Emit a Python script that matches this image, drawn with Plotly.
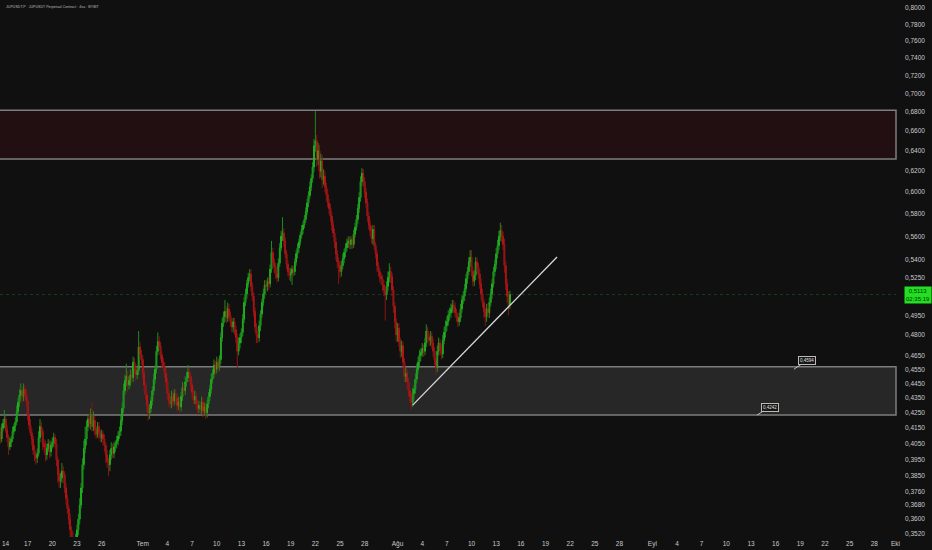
import plotly.graph_objects as go
import pandas as pd
import math

# ---------------- data (4h candles, JUPUSDT perpetual) ----------------
first_open = 0.414
close = [
    0.412, 0.408, 0.415,                              # Jun 13 (12h-20h)
    0.418, 0.421, 0.414, 0.409, 0.403, 0.406,         # Jun 14
    0.408, 0.413, 0.416, 0.419, 0.426, 0.432,         # Jun 15
    0.437, 0.440, 0.436, 0.441, 0.438, 0.433,         # Jun 16
    0.423, 0.417, 0.412, 0.408, 0.401, 0.398,         # Jun 17
    0.396, 0.399, 0.409, 0.416, 0.413, 0.405,         # Jun 18
    0.403, 0.398, 0.402, 0.405, 0.400, 0.404,         # Jun 19
    0.406, 0.409, 0.405, 0.395, 0.386, 0.382,         # Jun 20
    0.384, 0.388, 0.386, 0.378, 0.372, 0.366,         # Jun 21
    0.360, 0.354, 0.350, 0.347, 0.346, 0.349,         # Jun 22
    0.354, 0.360, 0.368, 0.378, 0.392, 0.402,         # Jun 23
    0.408, 0.416, 0.421, 0.418, 0.423, 0.416,         # Jun 24
    0.420, 0.414, 0.411, 0.416, 0.412, 0.409,         # Jun 25
    0.411, 0.408, 0.404, 0.398, 0.394, 0.392,         # Jun 26
    0.398, 0.402, 0.399, 0.403, 0.405, 0.407,         # Jun 27
    0.410, 0.413, 0.420, 0.428, 0.440, 0.447,         # Jun 28
    0.450, 0.444, 0.447, 0.451, 0.449, 0.460,         # Jun 29
    0.455, 0.451, 0.454, 0.471, 0.466, 0.462,         # Jun 30
    0.452, 0.444, 0.437, 0.430, 0.425, 0.428,         # Jul 1
    0.433, 0.440, 0.448, 0.455, 0.468, 0.475,         # Jul 2
    0.472, 0.465, 0.460, 0.457, 0.452, 0.446,         # Jul 3
    0.438, 0.433, 0.431, 0.436, 0.433, 0.438,         # Jul 4
    0.435, 0.430, 0.432, 0.429, 0.436, 0.442,         # Jul 5
    0.440, 0.446, 0.449, 0.453, 0.450, 0.444,         # Jul 6
    0.439, 0.434, 0.436, 0.431, 0.428, 0.430,         # Jul 7
    0.427, 0.432, 0.426, 0.429, 0.425, 0.431,         # Jul 8
    0.436, 0.441, 0.448, 0.452, 0.458, 0.455,         # Jul 9
    0.460, 0.457, 0.462, 0.478, 0.489, 0.494,         # Jul 10
    0.498, 0.493, 0.500, 0.495, 0.490, 0.486,         # Jul 11
    0.490, 0.484, 0.478, 0.468, 0.474, 0.478,         # Jul 12
    0.482, 0.492, 0.505, 0.512, 0.520, 0.525,         # Jul 13
    0.528, 0.518, 0.510, 0.498, 0.486, 0.480,         # Jul 14
    0.478, 0.487, 0.496, 0.505, 0.512, 0.519,         # Jul 15
    0.518, 0.522, 0.520, 0.532, 0.546, 0.538,         # Jul 16
    0.534, 0.528, 0.525, 0.537, 0.550, 0.560,         # Jul 17
    0.563, 0.556, 0.545, 0.536, 0.530, 0.527,         # Jul 18
    0.529, 0.532, 0.530, 0.538, 0.545, 0.550,         # Jul 19
    0.555, 0.561, 0.566, 0.570, 0.575, 0.582,         # Jul 20
    0.590, 0.597, 0.605, 0.613, 0.624, 0.645,         # Jul 21
    0.650, 0.632, 0.640, 0.620, 0.630, 0.612,         # Jul 22
    0.615, 0.605, 0.598, 0.590, 0.585, 0.578,         # Jul 23
    0.570, 0.563, 0.555, 0.545, 0.538, 0.535,         # Jul 24
    0.530, 0.535, 0.541, 0.546, 0.550, 0.554,         # Jul 25
    0.556, 0.553, 0.557, 0.553, 0.562, 0.568,         # Jul 26
    0.575, 0.585, 0.595, 0.610, 0.618, 0.610,         # Jul 27
    0.600, 0.590, 0.578, 0.570, 0.565, 0.558,         # Jul 28
    0.566, 0.552, 0.545, 0.535, 0.530, 0.526,         # Jul 29
    0.524, 0.519, 0.515, 0.511, 0.518, 0.525,         # Jul 30
    0.530, 0.526, 0.515, 0.502, 0.490, 0.480,         # Jul 31
    0.485, 0.475, 0.468, 0.472, 0.460, 0.450,         # Aug 1
    0.452, 0.446, 0.440, 0.436, 0.432, 0.438,         # Aug 2
    0.441, 0.448, 0.455, 0.460, 0.465, 0.467,         # Aug 3
    0.470, 0.468, 0.474, 0.483, 0.478, 0.476,         # Aug 4
    0.479, 0.474, 0.468, 0.462, 0.456, 0.468,         # Aug 5
    0.474, 0.469, 0.466, 0.476, 0.482, 0.487,         # Aug 6
    0.490, 0.495, 0.497, 0.500, 0.503, 0.501,         # Aug 7
    0.497, 0.494, 0.490, 0.493, 0.500, 0.507,         # Aug 8
    0.510, 0.516, 0.524, 0.530, 0.538, 0.542,         # Aug 9
    0.530, 0.522, 0.527, 0.538, 0.534, 0.528,         # Aug 10
    0.520, 0.512, 0.505, 0.498, 0.494, 0.500,         # Aug 11
    0.497, 0.505, 0.512, 0.520, 0.530, 0.536,         # Aug 12
    0.545, 0.552, 0.560, 0.565, 0.560, 0.553,         # Aug 13
    0.535, 0.520, 0.510, 0.503, 0.5113,               # Aug 14 (0h-16h)
]
# upper / lower wick lengths beyond the body, in thousandths of price
hi_wick = [
    3, 4, 3,
    3, 6, 2, 3, 2, 3,
    2, 3, 2, 3, 4, 3,
    4, 5, 3, 4, 3, 3,
    3, 2, 4, 3, 2, 3,
    2, 3, 4, 5, 3, 2,
    3, 4, 3, 3, 2, 3,
    3, 3, 2, 3, 2, 3,
    3, 5, 3, 2, 3, 2,
    2, 3, 2, 3, 2, 3,
    3, 3, 4, 3, 4, 5,
    8, 4, 3, 4, 5, 9,
    6, 3, 2, 3, 3, 2,
    3, 2, 3, 2, 3, 2,
    3, 4, 3, 3, 2, 3,
    3, 3, 4, 4, 5, 4,
    9, 4, 3, 4, 3, 4,
    3, 4, 3, 12, 4, 3,
    3, 3, 2, 3, 2, 3,
    3, 3, 4, 3, 4, 7,
    4, 3, 3, 3, 3, 3,
    3, 3, 3, 4, 3, 3,
    3, 3, 4, 3, 3, 4,
    3, 4, 4, 5, 3, 3,
    3, 3, 4, 3, 3, 3,
    3, 4, 3, 3, 3, 3,
    3, 3, 4, 3, 4, 3,
    4, 3, 3, 4, 4, 4,
    9, 4, 5, 4, 3, 3,
    3, 3, 3, 3, 4, 3,
    3, 4, 4, 4, 3, 4,
    4, 4, 3, 3, 3, 3,
    3, 4, 3, 3, 4, 4,
    4, 3, 4, 4, 10, 4,
    3, 3, 3, 4, 4, 5,
    14, 4, 3, 3, 3, 3,
    4, 3, 3, 3, 3, 4,
    3, 3, 4, 3, 4, 4,
    4, 4, 5, 4, 5, 7,
    31, 6, 8, 6, 7, 6,
    7, 5, 4, 5, 4, 4,
    4, 4, 4, 4, 3, 4,
    4, 4, 4, 3, 4, 4,
    4, 4, 3, 4, 4, 4,
    4, 4, 5, 5, 5, 4,
    4, 4, 4, 4, 4, 4,
    4, 4, 3, 3, 3, 3,
    3, 3, 4, 3, 4, 5,
    7, 4, 3, 3, 3, 3,
    4, 4, 3, 4, 3, 3,
    4, 3, 3, 3, 3, 4,
    3, 4, 4, 4, 4, 3,
    4, 3, 4, 5, 3, 3,
    4, 3, 3, 3, 3, 4,
    4, 3, 4, 4, 4, 4,
    4, 4, 4, 4, 4, 4,
    4, 3, 3, 4, 4, 4,
    4, 4, 4, 4, 4, 6,
    6, 4, 4, 4, 4, 3,
    4, 4, 4, 3, 3, 4,
    4, 4, 4, 4, 4, 4,
    5, 5, 5, 7, 5, 4,
    5, 4, 4, 4, 3,
]
lo_wick = [
    2, 3, 2,
    2, 3, 2, 3, 5, 2,
    3, 2, 2, 3, 2, 3,
    3, 3, 4, 3, 3, 4,
    3, 3, 2, 4, 3, 4,
    4, 3, 2, 3, 3, 4,
    3, 4, 3, 2, 4, 3,
    2, 3, 3, 4, 5, 4,
    4, 3, 5, 3, 4, 3,
    3, 4, 5, 4, 4, 3,
    2, 3, 3, 2, 3, 3,
    3, 4, 3, 3, 4, 3,
    3, 4, 3, 2, 4, 3,
    3, 4, 4, 5, 4, 7,
    4, 3, 3, 3, 3, 3,
    3, 2, 3, 3, 3, 3,
    4, 5, 3, 4, 4, 3,
    3, 4, 3, 3, 3, 4,
    4, 4, 3, 4, 5, 4,
    3, 3, 3, 3, 3, 3,
    3, 3, 4, 3, 3, 4,
    4, 4, 3, 3, 4, 3,
    4, 4, 3, 4, 3, 3,
    3, 3, 3, 3, 4, 4,
    4, 3, 3, 4, 4, 3,
    3, 3, 4, 3, 4, 3,
    3, 3, 3, 3, 3, 4,
    3, 4, 3, 3, 3, 3,
    4, 4, 3, 4, 4, 4,
    4, 4, 4, 12, 3, 4,
    4, 3, 3, 3, 4, 3,
    3, 4, 4, 4, 4, 6,
    4, 3, 4, 3, 3, 4,
    4, 4, 5, 3, 3, 5,
    5, 4, 4, 3, 3, 3,
    4, 5, 4, 4, 4, 4,
    5, 10, 4, 3, 3, 4,
    4, 3, 3, 4, 3, 3,
    3, 4, 3, 4, 4, 5,
    6, 8, 6, 7, 6, 8,
    5, 5, 6, 4, 5, 5,
    5, 4, 5, 5, 5, 15,
    5, 4, 3, 4, 4, 3,
    4, 4, 4, 4, 3, 3,
    3, 4, 4, 4, 4, 5,
    5, 5, 5, 4, 5, 4,
    5, 4, 4, 5, 4, 5,
    5, 5, 5, 20, 4, 4,
    4, 5, 5, 5, 5, 5,
    5, 4, 5, 4, 5, 4,
    4, 5, 4, 4, 5, 3,
    4, 3, 3, 3, 3, 4,
    3, 4, 3, 3, 4, 4,
    4, 4, 4, 4, 5, 3,
    3, 4, 4, 3, 3, 4,
    4, 3, 4, 4, 3, 4,
    4, 4, 4, 3, 3, 3,
    3, 4, 3, 4, 3, 4,
    4, 4, 4, 4, 4, 4,
    4, 5, 4, 5, 7, 4,
    4, 4, 3, 4, 3, 4,
    4, 4, 4, 4, 5, 5,
    6, 5, 5, 8, 3,
]

supply_zone = (0.6318, 0.6818)
demand_zone = (0.4236, 0.4568)
demand_labels = ["0,4594", "0,4242"]
last_price = 0.5113
countdown = "02:35:19"
trend_start = ("2025-08-02 20:10", 0.4302)
trend_end = ("2025-08-20 09:40", 0.5422)

y_ticks = [0.80, 0.78, 0.76, 0.74, 0.72, 0.70, 0.68, 0.66, 0.64, 0.62, 0.60, 0.58,
           0.56, 0.54, 0.525, 0.495, 0.48, 0.465, 0.455, 0.445, 0.435, 0.425,
           0.415, 0.405, 0.395, 0.385, 0.376, 0.368, 0.36, 0.352]
y_tick_text = ["0,8000", "0,7800", "0,7600", "0,7400", "0,7200", "0,7000", "0,6800",
               "0,6600", "0,6400", "0,6200", "0,6000", "0,5800", "0,5600", "0,5400",
               "0,5250", "0,4950", "0,4800", "0,4650", "0,4550", "0,4450", "0,4350",
               "0,4250", "0,4150", "0,4050", "0,3950", "0,3850", "0,3760", "0,3680",
               "0,3600", "0,3520"]
x_tick_dates = ["2025-06-17", "2025-06-20", "2025-06-23", "2025-06-26",
                "2025-07-01", "2025-07-04", "2025-07-07", "2025-07-10", "2025-07-13",
                "2025-07-16", "2025-07-19", "2025-07-22", "2025-07-25", "2025-07-28",
                "2025-08-01", "2025-08-04", "2025-08-07", "2025-08-10", "2025-08-13",
                "2025-08-16", "2025-08-19", "2025-08-22", "2025-08-25", "2025-08-28",
                "2025-09-01", "2025-09-04", "2025-09-07", "2025-09-10", "2025-09-13",
                "2025-09-16", "2025-09-19", "2025-09-22", "2025-09-25", "2025-09-28"]
x_tick_text = ["17", "20", "23", "26", "Tem", "4", "7", "10", "13", "16", "19",
               "22", "25", "28", "Ağu", "4", "7", "10", "13", "16", "19", "22", "25",
               "28", "Eyl", "4", "7", "10", "13", "16", "19", "22", "25", "28"]
first_day_label = "14"      # 14 Haziran, at the left edge
last_month_label = "Eki"    # 1 Ekim, at the right edge
title_text = "JUPUSDT.P · JUPUSDT Perpetual Contract · 4sa · BYBIT"

assert len(close) == len(hi_wick) == len(lo_wick), (len(close), len(hi_wick), len(lo_wick))

# ---------------- derived series ----------------
times = pd.date_range("2025-06-13 12:00", periods=len(close), freq="4h")
opens = [first_open] + close[:-1]
body_hi = [max(o, c) for o, c in zip(opens, close)]
body_lo = [min(o, c) for o, c in zip(opens, close)]
high = [b + w / 1000 for b, w in zip(body_hi, hi_wick)]
low = [b - w / 1000 for b, w in zip(body_lo, lo_wick)]

BG = "#101010"
GREEN = "#2ae62a"
RED = "#ec1818"
GREEN_W = "#1b8c1b"
RED_W = "#8a1515"
TXT = "#c9c9c9"
FONT = "Liberation Sans, Arial"

wg_x, wg_y, wr_x, wr_y = [], [], [], []
for t, o, c, h, l in zip(times, opens, close, high, low):
    if c >= o:
        wg_x += [t, t, None]; wg_y += [l, h, None]
    else:
        wr_x += [t, t, None]; wr_y += [l, h, None]

fig = go.Figure()
fig.add_trace(go.Scatter(x=wg_x, y=wg_y, mode="lines", line=dict(color=GREEN_W, width=1),
                         hoverinfo="skip", showlegend=False))
fig.add_trace(go.Scatter(x=wr_x, y=wr_y, mode="lines", line=dict(color=RED_W, width=1),
                         hoverinfo="skip", showlegend=False))
fig.add_trace(go.Candlestick(
    x=times, open=opens, high=body_hi, low=body_lo, close=close,
    increasing=dict(line=dict(color=GREEN, width=1), fillcolor=GREEN),
    decreasing=dict(line=dict(color=RED, width=1), fillcolor=RED),
    whiskerwidth=0, hoverinfo="skip", showlegend=False))

shapes = [
    dict(type="rect", xref="paper", yref="y", x0=-0.02, x1=1.0,
         y0=supply_zone[0], y1=supply_zone[1], fillcolor="#210f11",
         line=dict(color="#7d7d7d", width=1.5), layer="below"),
    dict(type="rect", xref="paper", yref="y", x0=-0.02, x1=1.0,
         y0=demand_zone[0], y1=demand_zone[1], fillcolor="#272727",
         line=dict(color="#7d7d7d", width=1.5), layer="below"),
    dict(type="line", xref="paper", yref="y", x0=0, x1=1, y0=last_price, y1=last_price,
         line=dict(color="rgba(40,110,40,0.45)", width=1, dash="dot"), layer="below"),
    dict(type="line", xref="x", yref="y", x0=trend_start[0], y0=trend_start[1],
         x1=trend_end[0], y1=trend_end[1], line=dict(color="#d8d8d8", width=1.3)),
]

annotations = [
    dict(xref="paper", yref="paper", x=0.004, y=1, xanchor="left", yanchor="top",
         yshift=-3, text=title_text, showarrow=False,
         font=dict(size=3.6, color="#bdbdbd", family=FONT)),
    dict(xref="paper", yref="y", x=1, y=math.log10(last_price), xanchor="left",
         yanchor="middle", xshift=8, text=f"{last_price:.4f}".replace(".", ",") + "<br>" + countdown,
         showarrow=False, bgcolor="#20e020", borderpad=1,
         font=dict(size=6, color="#0b2a0b", family=FONT)),
    dict(xref="x", yref="y", x="2025-09-18 05:30", y=math.log10(0.4550),
         text=demand_labels[0], showarrow=True, arrowhead=0, arrowwidth=1,
         arrowcolor="#bbbbbb", ax=13, ay=-9, bgcolor="#161616", bordercolor="#bbbbbb",
         borderwidth=1, borderpad=1,
         font=dict(size=4.5, color="#e0e0e0", family=FONT)),
    dict(xref="x", yref="y", x="2025-09-13 17:30", y=math.log10(demand_zone[0]),
         text=demand_labels[1], showarrow=True, arrowhead=0, arrowwidth=1,
         arrowcolor="#bbbbbb", ax=13, ay=-8, bgcolor="#161616", bordercolor="#bbbbbb",
         borderwidth=1, borderpad=1,
         font=dict(size=4.5, color="#e0e0e0", family=FONT)),
    dict(xref="paper", yref="paper", x=0.0, y=0, xanchor="left", yanchor="top",
         yshift=-1, text=first_day_label, showarrow=False,
         font=dict(size=6.5, color=TXT, family=FONT)),
    dict(xref="paper", yref="paper", x=0.9989, y=0, xanchor="center", yanchor="top",
         yshift=-1, text=last_month_label, showarrow=False,
         font=dict(size=6.5, color=TXT, family=FONT)),
]

fig.update_layout(
    width=932, height=550,
    margin=dict(l=0, r=36, t=0, b=13),
    paper_bgcolor=BG, plot_bgcolor=BG,
    shapes=shapes, annotations=annotations,
    showlegend=False, hovermode=False,
    xaxis=dict(type="date", range=["2025-06-13 15:14", "2025-09-30 15:22"],
               rangeslider=dict(visible=False), showgrid=False, zeroline=False,
               showline=False, ticks="", tickvals=x_tick_dates, ticktext=x_tick_text,
               tickfont=dict(size=6.5, color=TXT, family=FONT),
               ticklabelstandoff=1),
    yaxis=dict(type="log", side="right",
               range=[math.log10(0.3501), math.log10(0.8101)],
               showgrid=False, zeroline=False, showline=False, ticks="",
               tickvals=y_ticks, ticktext=y_tick_text, ticklabelstandoff=8,
               tickfont=dict(size=6.5, color=TXT, family=FONT)),
)

fig.write_html("out.html", config=dict(displayModeBar=False),
               post_script="document.body.style.margin='0';document.body.style.background='#101010';")
